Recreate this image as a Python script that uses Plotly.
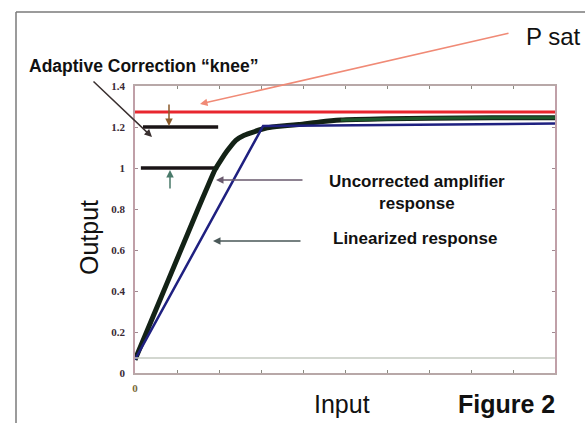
import plotly.graph_objects as go

# ---- data ----
x_uncorrected = [0, 0.5, 1.0, 1.5, 1.75, 1.9, 2.05, 2.2, 2.4, 2.6, 2.85, 3.15, 3.5, 3.9, 4.4, 4.9, 6, 7, 8.5, 10]
y_uncorrected = [0.065, 0.31, 0.555, 0.80, 0.92, 0.99, 1.04, 1.085, 1.135, 1.16, 1.178, 1.196, 1.205, 1.212, 1.225, 1.234, 1.24, 1.243, 1.245, 1.245]

x_linearized = [0, 3.05, 10]
y_linearized = [0.065, 1.205, 1.217]

x_psat = [0, 10]
y_psat = [1.273, 1.273]

knee_upper_x = [0.19, 1.98]
knee_upper_y = [1.2, 1.2]
knee_lower_x = [0.14, 1.98]
knee_lower_y = [1.0, 1.0]

floor_level = 0.073

y_ticks = [0, 0.2, 0.4, 0.6, 0.8, 1.0, 1.2, 1.4]
y_ticktext = ["0", "0.2", "0.4", "0.6", "0.8", "1", "1.2", "1.4"]
x_ticks = [0, 1, 2, 3, 4, 5, 6, 7, 8, 9, 10]
x_ticktext = ["0", "", "", "", "", "", "", "", "", "", ""]

# ---- layout geometry ----
W, H = 585, 423
L, R, T, B = 135, 30, 86, 50
PW, PH = W - L - R, H - T - B


def px(x):
    return (x - L) / PW


def py(y):
    return (H - B - y) / PH


fig = go.Figure()

fig.add_trace(go.Scatter(x=x_psat, y=y_psat, mode="lines",
                         line=dict(color="#e8262e", width=3)))
fig.add_trace(go.Scatter(x=knee_upper_x, y=knee_upper_y, mode="lines",
                         line=dict(color="#1a1416", width=3.5)))
fig.add_trace(go.Scatter(x=knee_lower_x, y=knee_lower_y, mode="lines",
                         line=dict(color="#1a1416", width=3.5)))
fig.add_trace(go.Scatter(x=x_uncorrected, y=y_uncorrected, mode="lines",
                         line=dict(color="#132216", width=5, shape="spline", smoothing=0.5)))
fig.add_trace(go.Scatter(x=x_uncorrected[15:], y=y_uncorrected[15:], mode="lines",
                         line=dict(color="#1d5a2c", width=3)))
fig.add_trace(go.Scatter(x=x_linearized, y=y_linearized, mode="lines",
                         line=dict(color="#1f2080", width=2.5)))

shapes = [
    # inner floor line
    dict(type="line", xref="x", yref="y", x0=0, x1=10, y0=floor_level, y1=floor_level,
         line=dict(color="#c4cac0", width=1.5)),
    # outer frame
    dict(type="line", xref="paper", yref="paper", x0=px(16), x1=px(16), y0=py(12), y1=py(423),
         line=dict(color="#7a7a7a", width=1.5)),
    dict(type="line", xref="paper", yref="paper", x0=px(16), x1=px(585), y0=py(12), y1=py(12),
         line=dict(color="#7a7a7a", width=1.5)),
]

annotations = [
    dict(text="Adaptive Correction “knee”", xref="paper", yref="paper", x=px(27), y=py(66),
         xanchor="left", yanchor="middle", showarrow=False,
         font=dict(family="Liberation Sans", size=17.5, color="#111111", weight="bold")),
    dict(text="P sat", xref="paper", yref="paper", x=px(524), y=py(36),
         xanchor="left", yanchor="middle", showarrow=False,
         font=dict(family="Liberation Sans", size=24, color="#111111")),
    dict(text="Uncorrected amplifier<br>response", xref="paper", yref="paper", x=px(417), y=py(192),
         xanchor="center", yanchor="middle", showarrow=False,
         font=dict(family="Liberation Sans", size=17, color="#111111", weight="bold")),
    dict(text="Linearized response", xref="paper", yref="paper", x=px(415), y=py(238),
         xanchor="center", yanchor="middle", showarrow=False,
         font=dict(family="Liberation Sans", size=17, color="#111111", weight="bold")),
    dict(text="Output", xref="paper", yref="paper", x=px(89), y=py(238), textangle=-90,
         xanchor="center", yanchor="middle", showarrow=False,
         font=dict(family="Liberation Sans", size=25, color="#111111")),
    dict(text="Input", xref="paper", yref="paper", x=px(342), y=py(404),
         xanchor="center", yanchor="middle", showarrow=False,
         font=dict(family="Liberation Sans", size=25, color="#111111")),
    dict(text="Figure 2", xref="paper", yref="paper", x=px(506), y=py(404),
         xanchor="center", yanchor="middle", showarrow=False,
         font=dict(family="Liberation Sans", size=25, color="#111111", weight="bold")),
    # arrows
    dict(text="", xref="paper", yref="paper", x=px(152), y=py(137), ax=92 - 152, ay=80 - 137,
         showarrow=True, arrowhead=2, arrowsize=1, arrowwidth=1.5, arrowcolor="#3a3030"),
    dict(text="", xref="paper", yref="paper", x=px(200), y=py(104), ax=510 - 200, ay=33 - 104,
         showarrow=True, arrowhead=2, arrowsize=1, arrowwidth=1.5, arrowcolor="#f08a76"),
    dict(text="", xref="paper", yref="paper", x=px(169), y=py(126), ax=0, ay=-23,
         showarrow=True, arrowhead=2, arrowsize=1, arrowwidth=1.5, arrowcolor="#8a5a2a"),
    dict(text="", xref="paper", yref="paper", x=px(170), y=py(170), ax=0, ay=20,
         showarrow=True, arrowhead=2, arrowsize=1, arrowwidth=1.5, arrowcolor="#4a7a6a"),
    dict(text="", xref="paper", yref="paper", x=px(216), y=py(180), ax=304 - 216, ay=0,
         showarrow=True, arrowhead=2, arrowsize=1, arrowwidth=1.5, arrowcolor="#6a5a6e"),
    dict(text="", xref="paper", yref="paper", x=px(213), y=py(241), ax=302 - 213, ay=0,
         showarrow=True, arrowhead=2, arrowsize=1, arrowwidth=1.5, arrowcolor="#4a5858"),
]

fig.update_layout(
    width=W, height=H,
    margin=dict(l=L, r=R, t=T, b=B),
    paper_bgcolor="white", plot_bgcolor="white",
    showlegend=False,
    shapes=shapes,
    annotations=annotations,
    xaxis=dict(range=[0, 10], tickvals=x_ticks, ticktext=x_ticktext,
               ticks="inside", ticklen=3, tickcolor="#8a8a80", showgrid=False, zeroline=False,
               showline=True, linecolor="#b8a8a8", linewidth=1.5, mirror="ticks",
               ticklabelstandoff=4,
               tickfont=dict(family="Liberation Serif", size=11, color="#7a6a3a", weight="bold")),
    yaxis=dict(range=[0, 1.4], tickvals=y_ticks, ticktext=y_ticktext,
               ticks="inside", ticklen=3, tickcolor="#a08890", showgrid=False, zeroline=False,
               showline=True, linecolor="#c0a0a8", linewidth=1.5, mirror="ticks",
               ticklabelstandoff=6,
               tickfont=dict(family="Liberation Serif", size=11, color="#3a2a35", weight="bold")),
)

fig.write_html("out.html",
               config={"displayModeBar": False},
               post_script="document.body.style.margin='0';document.body.style.overflow='hidden';")
